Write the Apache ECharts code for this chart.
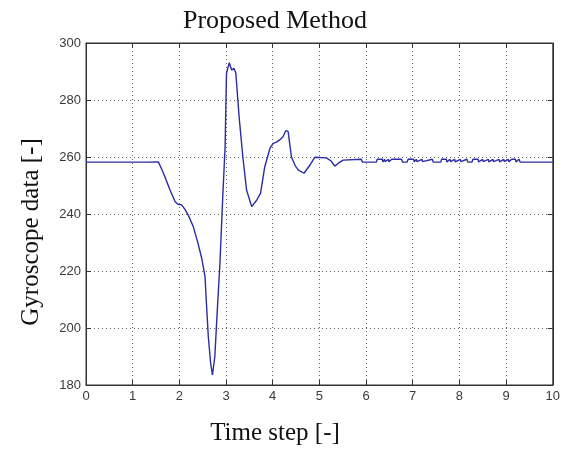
<!DOCTYPE html>
<html><head><meta charset="utf-8">
<script src="https://cdn.jsdelivr.net/npm/echarts@6/dist/echarts.min.js"></script>
<style>html,body{margin:0;padding:0;background:#fff}#c{width:563px;height:450px}</style>
</head><body><div id="c"></div>
<script>
var titleText = "Proposed Method";
var xLabel = "Time step [-]";
var yLabel = "Gyroscope data [-]";
var xTicks = [0,1,2,3,4,5,6,7,8,9,10];
var yTicks = [180,200,220,240,260,280,300];
var timeSteps = [0,0.22,0.23,0.24,0.7,0.71,0.72,1.33,1.34,1.35,1.55,1.62,1.69,1.80,1.91,1.97,2.05,2.12,2.19,2.30,2.40,2.48,2.55,2.58,2.62,2.67,2.71,2.76,2.81,2.87,2.93,2.98,3.01,3.07,3.12,3.17,3.21,3.28,3.36,3.44,3.55,3.66,3.74,3.83,3.94,4.01,4.08,4.15,4.22,4.28,4.33,4.40,4.48,4.55,4.67,4.80,4.90,5.02,5.15,5.25,5.33,5.42,5.51,
5.90,5.92,6.22,6.24,6.35,6.36,6.40,6.41,6.48,6.49,6.55,6.56,6.76,6.78,6.88,6.90,7.02,7.03,7.08,7.09,7.20,7.21,7.42,7.44,7.60,7.62,7.72,7.73,7.80,7.81,7.90,7.91,8.02,8.03,8.16,8.18,8.27,8.29,8.40,8.41,8.50,8.51,8.62,8.63,8.72,8.73,8.85,8.86,8.95,8.96,9.05,9.06,9.12,9.14,9.20,9.21,9.28,9.30,9.94,9.95,9.97,9.98,10];
var gyroValues = [258.2,258.2,257.6,258.2,258.2,258.8,258.2,258.2,258.8,258.2,258.3,255.8,253.1,248.4,244.3,243.4,243.2,241.6,239.6,235.5,229.7,224.4,218.0,208.8,197.0,187.7,183.5,190.0,205.3,222.8,246.1,263.6,289.4,293.1,290.5,291.1,289.4,274.1,260.1,248.4,242.6,244.9,247.3,256.6,263.0,264.8,265.2,266.0,267.1,269.2,269.0,260.1,257.0,255.4,254.3,257.2,259.9,259.8,259.7,258.6,256.8,258.0,258.9,
259.2,258.2,258.2,259.2,259.2,258.3,259.2,258.4,259.2,258.3,259.2,258.5,259.2,258.2,258.2,259.2,259.2,258.3,259.2,258.4,259.2,258.4,259.2,258.2,258.2,259.2,259.2,258.3,259.2,258.4,259.2,258.3,259.2,258.4,259.2,258.2,258.2,259.2,259.2,258.3,259.2,258.4,259.2,258.3,259.2,258.4,259.2,258.3,259.2,258.4,259.2,258.3,259.2,258.5,259.2,258.3,259.2,258.2,258.2,258.9,258.2,258.8,258.2];

var seriesData = timeSteps.map(function(t,i){return [t, gyroValues[i]];});
var tickColor = '#3a3a3a';
var chart = echarts.init(document.getElementById('c'));
var gridLine = {show:true, lineStyle:{color:'#666', type:[1,3], width:1}};
var axisBase = {axisLine:{show:true,onZero:false,lineStyle:{color:'#333',width:1}}, axisTick:{show:true,inside:true,length:5,lineStyle:{color:'#333'}}};
chart.setOption({
  animation:false,
  backgroundColor:'#fff',
  grid:{left:86,right:10,top:43,bottom:65,show:true,borderColor:'#333',borderWidth:1,backgroundColor:'#fff'},
  graphic:[
    {type:'text',style:{text:titleText,x:275,y:21,align:'center',verticalAlign:'middle',font:'26px "Liberation Serif"',fill:'#111'}},
    {type:'text',style:{text:xLabel,x:275,y:433,align:'center',verticalAlign:'middle',font:'25px "Liberation Serif"',fill:'#111'}},
    {type:'text',x:31,y:232,rotation:Math.PI/2,style:{text:yLabel,x:0,y:0,align:'center',verticalAlign:'middle',font:'25px "Liberation Serif"',fill:'#111'}}
  ],
  xAxis:[
    Object.assign({type:'value',min:0,max:10,interval:1,position:'bottom',
      axisLabel:{color:tickColor,fontFamily:'Liberation Sans',fontSize:13,margin:5},
      splitLine:gridLine}, axisBase),
    Object.assign({type:'value',min:0,max:10,interval:1,position:'top',axisLabel:{show:false},splitLine:{show:false}}, axisBase)
  ],
  yAxis:[
    Object.assign({type:'value',min:180,max:300,interval:20,position:'left',
      axisLabel:{color:tickColor,fontFamily:'Liberation Sans',fontSize:13,margin:5},
      splitLine:gridLine}, axisBase),
    Object.assign({type:'value',min:180,max:300,interval:20,position:'right',axisLabel:{show:false},splitLine:{show:false}}, axisBase)
  ],
  series:[{type:'line',data:seriesData,showSymbol:false,symbol:'none',lineStyle:{color:'#2b2ba6',width:1.4},xAxisIndex:0,yAxisIndex:0}]
});
</script></body></html>
